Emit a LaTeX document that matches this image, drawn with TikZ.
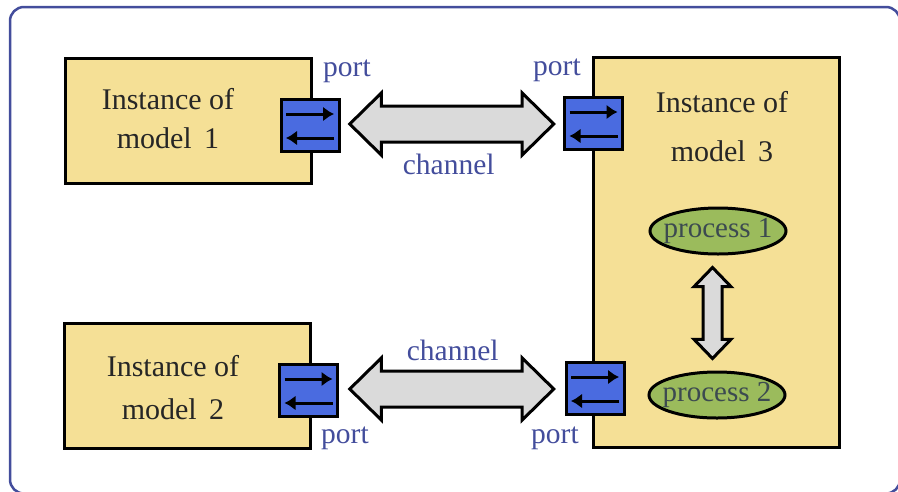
\documentclass[tikz,border=0pt]{standalone}
\usepackage{fontspec}
\setmainfont{Liberation Serif}
\usepackage{tikz}
\usetikzlibrary{shapes, arrows, arrows.meta, positioning}

\definecolor{modelfill}{HTML}{F5E096}
\definecolor{portfill}{HTML}{4A6BE0}
\definecolor{procfill}{HTML}{9BBB5C}
\definecolor{arrowfill}{HTML}{DADADA}
\definecolor{bluetext}{HTML}{434D9C}
\definecolor{proctext}{HTML}{3C4A50}

\tikzset{
    framebox/.style={draw=bluetext, line width=2.5pt, rounded corners=14pt, minimum width=890pt, minimum height=486.5pt, outer sep=0pt},
    modelbox/.style={draw, line width=3pt, fill=modelfill, outer sep=0pt},
    portbox/.style={draw, line width=3pt, fill=portfill, minimum width=58pt, minimum height=52pt, outer sep=0pt},
    proc/.style={ellipse, draw, line width=3pt, fill=procfill, minimum width=136pt, minimum height=46pt, inner xsep=-9pt, inner ysep=0pt, text=proctext, font=\fontsize{29}{34}\selectfont},
    chan/.style={double arrow, draw, line width=3pt, fill=arrowfill, minimum height=204pt, minimum width=59pt, double arrow head extend=13pt, double arrow tip angle=89, inner sep=16.5pt, outer sep=0pt},
    bluelabel/.style={text=bluetext, inner sep=0pt, font=\fontsize{29.5}{34}\selectfont},
    modeltext/.style={align=center, text=black!85, inner sep=0pt}
}

\begin{document}
\begin{tikzpicture}[x=1pt, y=-1pt, font=\fontsize{30}{34}\selectfont, >={Latex[length=11pt, width=15pt]}]
    \useasboundingbox (0,0) rectangle (898,491);

    \node[framebox] (frame) at (455,250.25) {};

    \node[modelbox, minimum width=246pt, minimum height=125pt] (model1) at (188,120.5) {};
    \node[modelbox, minimum width=246pt, minimum height=125pt] (model2) at (187,385.5) {};
    \node[modelbox, minimum width=246pt, minimum height=390pt] (model3) at (716,252) {};

    \node[modeltext] (text1) at (168,119) {Instance of\\[5pt]model\, 1};
    \node[modeltext] (text2) at (173,388) {Instance of\\[9pt]model\, 2};
    \node[modeltext] (text3) at (722,127) {Instance of\\[15pt]model\, 3};

    \node[portbox] (port1) at (310,125) {};
    \node[portbox] (port2) at (308.5,390) {};
    \node[portbox] (port3) at (593.5,123) {};
    \node[portbox] (port4) at (595,388) {};

    \foreach \p in {port1, port2, port3, port4} {
        \draw[->, line width=3pt] ([xshift=-24pt, yshift=11pt]\p.center) to ([xshift=24pt, yshift=11pt]\p.center);
        \draw[->, line width=3pt] ([xshift=24pt, yshift=-13pt]\p.center) to ([xshift=-24pt, yshift=-13pt]\p.center);
    }

    \path (port1) -- (port3) node[midway, chan] (chan1) {};
    \path (port2) -- (port4) node[midway, chan] (chan2) {};

    \node[bluelabel] (pl1) at (347,71.5) {port};
    \node[bluelabel] (pl2) at (345,438.5) {port};
    \node[bluelabel] (pl3) at (557,70.5) {port};
    \node[bluelabel] (pl4) at (555,438.5) {port};

    \node[bluelabel, below=12pt of chan1, xshift=-3pt] (cl1) {channel};
    \node[bluelabel, above=10pt of chan2, xshift=1pt] (cl2) {channel};

    \node[proc] (proc1) at (718,231) {process 1};
    \node[proc] (proc2) at (717,395) {process 2};

    \path (proc1) -- (proc2) node[midway, xshift=-5pt, double arrow, draw, line width=3pt, fill=arrowfill, shape border rotate=90, minimum height=91pt, minimum width=34pt, double arrow head extend=9pt, double arrow tip angle=88, inner sep=8pt, outer sep=0pt] (flow) {};
\end{tikzpicture}
\end{document}
